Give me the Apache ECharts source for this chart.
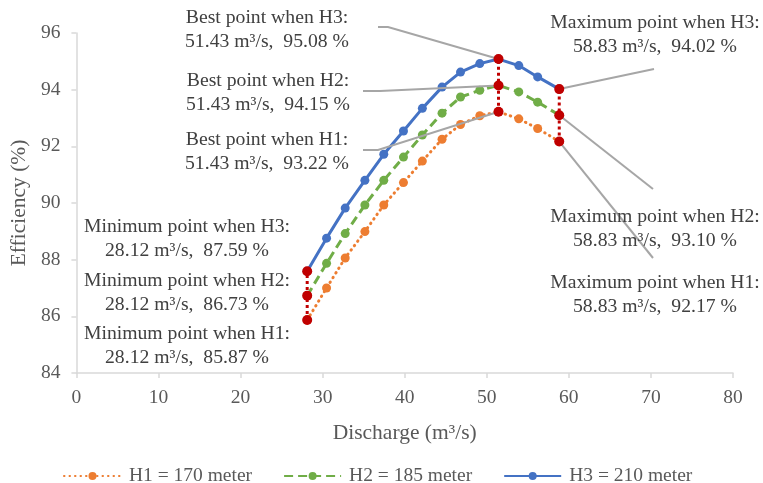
<!DOCTYPE html>
<html>
<head>
<meta charset="utf-8">
<script src="https://cdn.jsdelivr.net/npm/echarts@6/dist/echarts.min.js"></script>
<style>
  html, body { margin: 0; padding: 0; background: #fff; }
  #chart { width: 763px; height: 483px; }
</style>
</head>
<body>
<div id="chart"></div>
<script>
// 数据：流量与三种水头下的效率
const discharge = [28.12, 30.48, 32.75, 35.15, 37.45, 39.85, 42.15, 44.55, 46.8, 49.15, 51.43, 53.9, 56.2, 58.83];
const effH1 = [85.87, 87.0, 88.06, 88.99, 89.93, 90.72, 91.48, 92.25, 92.77, 93.08, 93.22, 92.97, 92.63, 92.17];
const effH2 = [86.73, 87.87, 88.92, 89.93, 90.8, 91.62, 92.4, 93.17, 93.74, 93.98, 94.15, 93.92, 93.56, 93.1];
const effH3 = [87.59, 88.76, 89.82, 90.8, 91.72, 92.54, 93.34, 94.09, 94.62, 94.92, 95.08, 94.85, 94.45, 94.02];
const seriesNames = ['H1 = 170 meter', 'H2 = 185 meter', 'H3 = 210 meter'];
const headTags = ['H1', 'H2', 'H3'];
const keyPoints = [
    { name: 'Minimum', index: 0 },
    { name: 'Best', index: 10 },
    { name: 'Maximum', index: 13 }
];

const FONT = 'Liberation Serif';
const allEff = [effH1, effH2, effH3];

// 标注位置（像素）：文字中心 + 引线起点
const labelLayout = {
    'Minimum-0': { cx: 187, cy: 346 },
    'Minimum-1': { cx: 187, cy: 293 },
    'Minimum-2': { cx: 187, cy: 239 },
    'Best-0': { cx: 267, cy: 152, leader: [[363, 150], [378, 150]] },
    'Best-1': { cx: 268, cy: 93, leader: [[363, 91], [380, 91]] },
    'Best-2': { cx: 267, cy: 30, leader: [[378, 27], [388, 27]] },
    'Maximum-0': { cx: 655, cy: 295, leader: [[653, 258]] },
    'Maximum-1': { cx: 655, cy: 229, leader: [[653, 189]] },
    'Maximum-2': { cx: 655, cy: 35, leader: [[654, 69]] }
};

const chart = echarts.init(document.getElementById('chart'));

const curveStyles = [
    { color: '#ED7D31', type: [0.5, 5], width: 3, cap: 'round' },
    { color: '#70AD47', type: [9, 5], width: 3, cap: 'butt' },
    { color: '#4472C4', type: 'solid', width: 3, cap: 'butt' }
];

const series = allEff.map((eff, k) => ({
    name: seriesNames[k],
    type: 'line',
    data: discharge.map((x, i) => [x, eff[i]]),
    symbol: 'circle',
    symbolSize: 9,
    itemStyle: { color: curveStyles[k].color },
    lineStyle: {
        color: curveStyles[k].color,
        width: curveStyles[k].width,
        type: curveStyles[k].type,
        cap: curveStyles[k].cap
    },
    z: 2 + k
}));

// 红色关键点竖线
keyPoints.forEach(kp => {
    series.push({
        name: 'key-' + kp.name,
        type: 'line',
        data: allEff.map(eff => [discharge[kp.index], eff[kp.index]]),
        symbol: 'circle',
        symbolSize: 10,
        itemStyle: { color: '#C00000' },
        lineStyle: { color: '#C00000', width: 3, type: [3, 3] },
        z: 10
    });
});

const option = {
    animation: false,
    backgroundColor: '#fff',
    textStyle: { fontFamily: FONT },
    grid: { left: 75, right: 30, top: 33, bottom: 110 },
    xAxis: {
        type: 'value',
        min: 0,
        max: 80,
        interval: 10,
        name: 'Discharge (m³/s)',
        nameLocation: 'middle',
        nameGap: 49,
        nameTextStyle: { fontFamily: FONT, fontSize: 21.5, color: '#595959' },
        axisLine: { show: true, lineStyle: { color: '#D9D9D9', width: 1.5 } },
        axisTick: { show: true, length: 5, lineStyle: { color: '#D9D9D9', width: 1.5 } },
        axisLabel: { fontFamily: FONT, fontSize: 19.5, color: '#595959', margin: 15 },
        splitLine: { show: false }
    },
    yAxis: {
        type: 'value',
        min: 84,
        max: 96,
        interval: 2,
        name: 'Efficiency (%)',
        nameLocation: 'middle',
        nameGap: 41,
        nameTextStyle: { fontFamily: FONT, fontSize: 21.5, color: '#595959' },
        axisLine: { show: true, lineStyle: { color: '#D9D9D9', width: 1.5 } },
        axisTick: { show: true, length: 5, lineStyle: { color: '#D9D9D9', width: 1.5 } },
        axisLabel: { fontFamily: FONT, fontSize: 19.5, color: '#595959', margin: 16 },
        splitLine: { show: false }
    },
    legend: {
        data: seriesNames,
        left: 58,
        top: 461,
        itemWidth: 57,
        itemHeight: 10,
        itemGap: 31,
        textStyle: { fontFamily: FONT, fontSize: 19.5, color: '#595959', padding: [0, 0, 0, 3] }
    },
    series: series
};

chart.setOption(option);

// 标注文字与引线
const graphics = [];
keyPoints.forEach(kp => {
    allEff.forEach((eff, k) => {
        const layout = labelLayout[kp.name + '-' + k];
        const x = discharge[kp.index];
        const y = eff[kp.index];
        graphics.push({
            type: 'text',
            x: layout.cx,
            y: layout.cy,
            z: 20,
            style: {
                text: kp.name + ' point when ' + headTags[k] + ':\n' +
                      x.toFixed(2) + ' m³/s,  ' + y.toFixed(2) + ' %',
                fontFamily: FONT,
                fontSize: 19.7,
                lineHeight: 24,
                fill: '#404040',
                align: 'center',
                verticalAlign: 'middle'
            }
        });
        if (layout.leader) {
            const p = chart.convertToPixel({ gridIndex: 0 }, [x, y]);
            graphics.push({
                type: 'polyline',
                z: 5,
                shape: { points: layout.leader.concat([p]) },
                style: { stroke: '#A6A6A6', lineWidth: 2, fill: null }
            });
        }
    });
});

chart.setOption({ graphic: graphics });
</script>
</body>
</html>
